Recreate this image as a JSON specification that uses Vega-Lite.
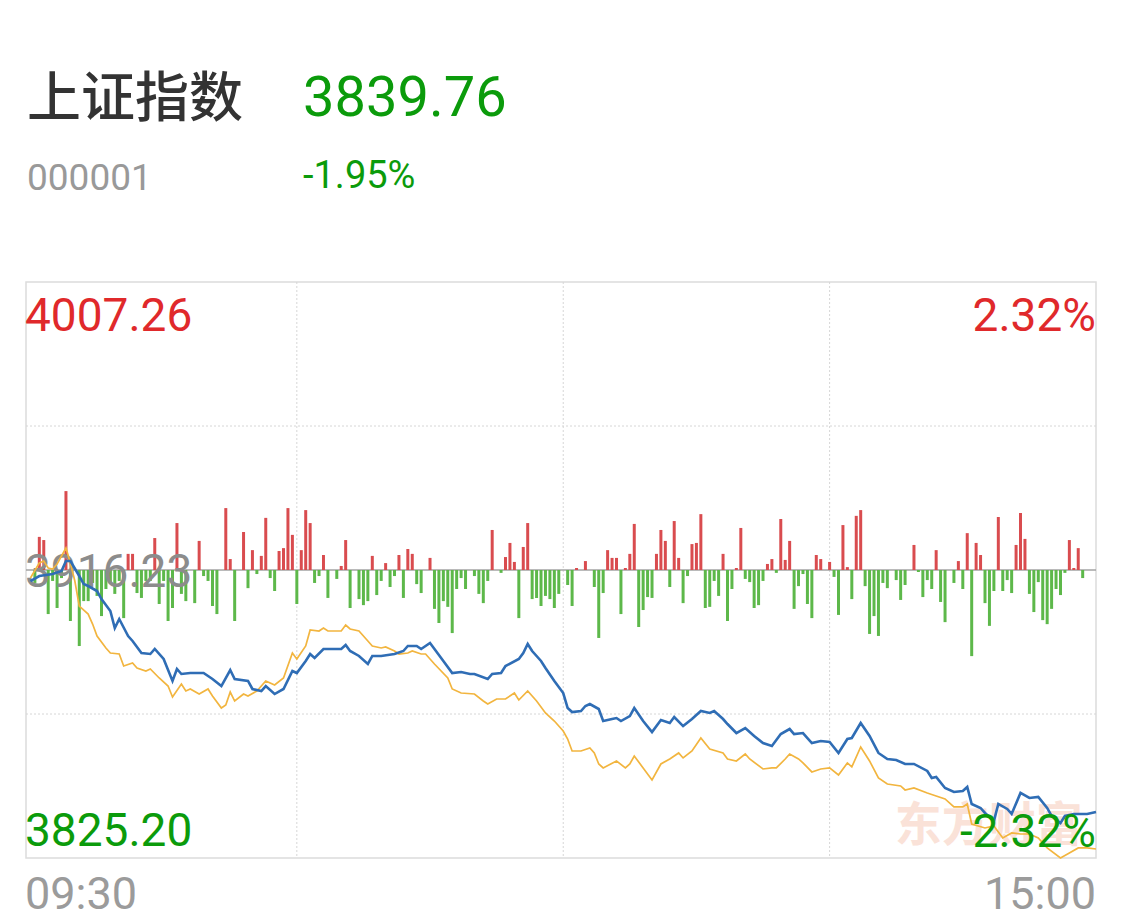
{
  "$schema": "https://vega.github.io/schema/vega-lite/v6.json",
  "background": "white",
  "padding": {"left": 24, "top": 71, "right": 27, "bottom": 6},
  "config": {"view": {"stroke": null}, "font": "Roboto"},
  "datasets": {
    "levels": [
      {"level": "high", "label": "4007.26", "pct": "2.32%", "price": 4007.26},
      {"level": "prev", "label": "3916.23", "pct": "0.00%", "price": 3916.23},
      {"level": "low", "label": "3825.20", "pct": "-2.32%", "price": 3825.20}
    ],
    "shIndex": [
      {"minute": 0, "price": 3912.75}, {"minute": 2, "price": 3914.33}, {"minute": 5, "price": 3914.96}, {"minute": 7, "price": 3915.91},
      {"minute": 8, "price": 3919.08}, {"minute": 9, "price": 3919.08}, {"minute": 11, "price": 3914.33}, {"minute": 12, "price": 3911.80},
      {"minute": 13, "price": 3911.17}, {"minute": 15, "price": 3909.59}, {"minute": 16, "price": 3907.06}, {"minute": 18, "price": 3903.27},
      {"minute": 19, "price": 3897.89}, {"minute": 20, "price": 3900.74}, {"minute": 22, "price": 3895.37}, {"minute": 23, "price": 3893.79},
      {"minute": 25, "price": 3889.99}, {"minute": 27, "price": 3889.68}, {"minute": 28, "price": 3891.26}, {"minute": 30, "price": 3888.10},
      {"minute": 32, "price": 3881.15}, {"minute": 33, "price": 3884.94}, {"minute": 34, "price": 3883.36}, {"minute": 36, "price": 3883.67},
      {"minute": 39, "price": 3883.67}, {"minute": 41, "price": 3881.78}, {"minute": 43, "price": 3879.56}, {"minute": 45, "price": 3884.62},
      {"minute": 46, "price": 3881.78}, {"minute": 49, "price": 3881.15}, {"minute": 50, "price": 3878.62}, {"minute": 52, "price": 3877.98},
      {"minute": 53, "price": 3879.56}, {"minute": 55, "price": 3877.03}, {"minute": 57, "price": 3878.62}, {"minute": 59, "price": 3884.31},
      {"minute": 60, "price": 3883.67}, {"minute": 62, "price": 3887.47}, {"minute": 63, "price": 3889.68}, {"minute": 64, "price": 3888.41},
      {"minute": 66, "price": 3891.26}, {"minute": 68, "price": 3891.26}, {"minute": 70, "price": 3891.26}, {"minute": 71, "price": 3892.52},
      {"minute": 72, "price": 3890.63}, {"minute": 74, "price": 3889.05}, {"minute": 76, "price": 3886.52}, {"minute": 77, "price": 3889.05},
      {"minute": 79, "price": 3889.05}, {"minute": 82, "price": 3889.68}, {"minute": 84, "price": 3890.63}, {"minute": 85, "price": 3892.21},
      {"minute": 87, "price": 3892.21}, {"minute": 88, "price": 3891.26}, {"minute": 90, "price": 3893.16}, {"minute": 91, "price": 3891.26},
      {"minute": 93, "price": 3887.47}, {"minute": 95, "price": 3883.67}, {"minute": 97, "price": 3883.99}, {"minute": 99, "price": 3883.36},
      {"minute": 100, "price": 3883.36}, {"minute": 103, "price": 3881.78}, {"minute": 104, "price": 3883.36}, {"minute": 106, "price": 3883.67},
      {"minute": 107, "price": 3885.89}, {"minute": 110, "price": 3888.10}, {"minute": 111, "price": 3889.99}, {"minute": 112, "price": 3892.84},
      {"minute": 113, "price": 3890.63}, {"minute": 115, "price": 3887.47}, {"minute": 116, "price": 3885.26}, {"minute": 118, "price": 3881.15},
      {"minute": 120, "price": 3877.35}, {"minute": 121, "price": 3872.61}, {"minute": 122, "price": 3871.34}, {"minute": 124, "price": 3871.66},
      {"minute": 125, "price": 3873.24}, {"minute": 126, "price": 3873.87}, {"minute": 128, "price": 3872.29}, {"minute": 129, "price": 3868.50},
      {"minute": 131, "price": 3869.13}, {"minute": 132, "price": 3869.44}, {"minute": 133, "price": 3868.50}, {"minute": 135, "price": 3870.08},
      {"minute": 136, "price": 3872.61}, {"minute": 138, "price": 3868.50}, {"minute": 140, "price": 3865.02}, {"minute": 142, "price": 3868.81},
      {"minute": 144, "price": 3867.87}, {"minute": 145, "price": 3869.76}, {"minute": 147, "price": 3866.91}, {"minute": 149, "price": 3869.13},
      {"minute": 151, "price": 3871.66}, {"minute": 153, "price": 3871.03}, {"minute": 154, "price": 3871.66}, {"minute": 156, "price": 3869.13},
      {"minute": 157, "price": 3867.55}, {"minute": 159, "price": 3864.70}, {"minute": 161, "price": 3866.28}, {"minute": 163, "price": 3863.76},
      {"minute": 165, "price": 3861.54}, {"minute": 167, "price": 3860.59}, {"minute": 169, "price": 3864.39}, {"minute": 171, "price": 3865.97},
      {"minute": 172, "price": 3864.39}, {"minute": 174, "price": 3864.70}, {"minute": 176, "price": 3861.54}, {"minute": 178, "price": 3862.18},
      {"minute": 180, "price": 3861.86}, {"minute": 182, "price": 3858.40}, {"minute": 184, "price": 3862.81}, {"minute": 185, "price": 3863.13},
      {"minute": 187, "price": 3867.87}, {"minute": 189, "price": 3863.76}, {"minute": 191, "price": 3858.40}, {"minute": 193, "price": 3856.50},
      {"minute": 195, "price": 3856.18}, {"minute": 197, "price": 3854.92}, {"minute": 199, "price": 3854.92}, {"minute": 202, "price": 3852.71},
      {"minute": 203, "price": 3850.49}, {"minute": 204, "price": 3850.81}, {"minute": 206, "price": 3847.33}, {"minute": 208, "price": 3846.07},
      {"minute": 210, "price": 3846.38}, {"minute": 211, "price": 3847.65}, {"minute": 212, "price": 3842.28}, {"minute": 214, "price": 3841.01},
      {"minute": 215, "price": 3839.43}, {"minute": 217, "price": 3836.90}, {"minute": 218, "price": 3842.28}, {"minute": 220, "price": 3840.70},
      {"minute": 221, "price": 3839.12}, {"minute": 223, "price": 3845.76}, {"minute": 225, "price": 3844.18}, {"minute": 227, "price": 3844.49},
      {"minute": 229, "price": 3841.01}, {"minute": 230, "price": 3838.49}, {"minute": 232, "price": 3836.27}, {"minute": 233, "price": 3838.49},
      {"minute": 235, "price": 3839.12}, {"minute": 238, "price": 3839.12}, {"minute": 240, "price": 3839.76}
    ],
    "leadLine": [
      {"minute": 0, "price": 3913.70}, {"minute": 2, "price": 3918.44}, {"minute": 3, "price": 3919.08}, {"minute": 4, "price": 3916.87},
      {"minute": 5, "price": 3916.55}, {"minute": 6, "price": 3918.13}, {"minute": 8, "price": 3923.19}, {"minute": 9, "price": 3918.44},
      {"minute": 10, "price": 3912.75}, {"minute": 11, "price": 3904.82}, {"minute": 13, "price": 3902.31}, {"minute": 14, "price": 3899.15},
      {"minute": 15, "price": 3895.37}, {"minute": 17, "price": 3891.58}, {"minute": 18, "price": 3889.99}, {"minute": 20, "price": 3889.68},
      {"minute": 21, "price": 3885.89}, {"minute": 23, "price": 3886.83}, {"minute": 24, "price": 3885.26}, {"minute": 26, "price": 3884.31},
      {"minute": 27, "price": 3884.94}, {"minute": 29, "price": 3882.10}, {"minute": 31, "price": 3879.56}, {"minute": 32, "price": 3876.09},
      {"minute": 34, "price": 3880.20}, {"minute": 35, "price": 3877.98}, {"minute": 36, "price": 3878.62}, {"minute": 38, "price": 3877.03},
      {"minute": 40, "price": 3878.62}, {"minute": 41, "price": 3876.41}, {"minute": 43, "price": 3872.61}, {"minute": 44, "price": 3873.56},
      {"minute": 45, "price": 3877.66}, {"minute": 46, "price": 3874.82}, {"minute": 48, "price": 3877.03}, {"minute": 49, "price": 3876.41},
      {"minute": 51, "price": 3877.98}, {"minute": 53, "price": 3881.15}, {"minute": 55, "price": 3879.88}, {"minute": 57, "price": 3882.10},
      {"minute": 59, "price": 3889.99}, {"minute": 60, "price": 3888.10}, {"minute": 62, "price": 3892.21}, {"minute": 63, "price": 3897.26},
      {"minute": 65, "price": 3896.95}, {"minute": 66, "price": 3897.89}, {"minute": 67, "price": 3896.95}, {"minute": 70, "price": 3896.95},
      {"minute": 71, "price": 3898.84}, {"minute": 72, "price": 3897.58}, {"minute": 74, "price": 3896.95}, {"minute": 76, "price": 3893.79},
      {"minute": 77, "price": 3892.21}, {"minute": 79, "price": 3891.58}, {"minute": 80, "price": 3891.89}, {"minute": 82, "price": 3890.63},
      {"minute": 83, "price": 3889.68}, {"minute": 85, "price": 3889.99}, {"minute": 86, "price": 3890.63}, {"minute": 88, "price": 3889.68},
      {"minute": 89, "price": 3889.68}, {"minute": 91, "price": 3886.52}, {"minute": 94, "price": 3882.10}, {"minute": 95, "price": 3878.62},
      {"minute": 97, "price": 3877.35}, {"minute": 100, "price": 3877.03}, {"minute": 102, "price": 3874.82}, {"minute": 103, "price": 3873.87},
      {"minute": 105, "price": 3875.45}, {"minute": 107, "price": 3875.45}, {"minute": 109, "price": 3877.35}, {"minute": 110, "price": 3875.14},
      {"minute": 112, "price": 3877.98}, {"minute": 114, "price": 3874.82}, {"minute": 116, "price": 3871.03}, {"minute": 118, "price": 3868.50},
      {"minute": 120, "price": 3865.34}, {"minute": 121, "price": 3862.81}, {"minute": 122, "price": 3859.02}, {"minute": 124, "price": 3859.02},
      {"minute": 126, "price": 3859.97}, {"minute": 127, "price": 3858.40}, {"minute": 128, "price": 3854.92}, {"minute": 129, "price": 3853.66},
      {"minute": 132, "price": 3855.87}, {"minute": 134, "price": 3853.66}, {"minute": 135, "price": 3854.92}, {"minute": 136, "price": 3857.45},
      {"minute": 138, "price": 3853.66}, {"minute": 140, "price": 3849.87}, {"minute": 142, "price": 3854.92}, {"minute": 144, "price": 3856.50},
      {"minute": 146, "price": 3858.40}, {"minute": 147, "price": 3856.82}, {"minute": 149, "price": 3859.02}, {"minute": 151, "price": 3863.13},
      {"minute": 153, "price": 3859.66}, {"minute": 156, "price": 3858.40}, {"minute": 157, "price": 3856.50}, {"minute": 159, "price": 3855.87},
      {"minute": 161, "price": 3858.08}, {"minute": 162, "price": 3856.50}, {"minute": 165, "price": 3853.34}, {"minute": 167, "price": 3853.66},
      {"minute": 168, "price": 3853.66}, {"minute": 170, "price": 3856.50}, {"minute": 171, "price": 3858.08}, {"minute": 173, "price": 3856.50},
      {"minute": 174, "price": 3855.24}, {"minute": 176, "price": 3852.40}, {"minute": 178, "price": 3853.34}, {"minute": 180, "price": 3853.66},
      {"minute": 182, "price": 3851.44}, {"minute": 184, "price": 3855.24}, {"minute": 185, "price": 3853.98}, {"minute": 187, "price": 3860.30},
      {"minute": 189, "price": 3855.87}, {"minute": 191, "price": 3850.49}, {"minute": 193, "price": 3848.60}, {"minute": 196, "price": 3847.96},
      {"minute": 197, "price": 3846.70}, {"minute": 199, "price": 3847.33}, {"minute": 202, "price": 3845.75}, {"minute": 204, "price": 3844.80},
      {"minute": 206, "price": 3843.86}, {"minute": 208, "price": 3841.33}, {"minute": 210, "price": 3841.33}, {"minute": 211, "price": 3842.28},
      {"minute": 212, "price": 3835.96}, {"minute": 215, "price": 3834.69}, {"minute": 217, "price": 3835.32}, {"minute": 219, "price": 3831.53},
      {"minute": 221, "price": 3833.11}, {"minute": 223, "price": 3832.79}, {"minute": 225, "price": 3832.79}, {"minute": 227, "price": 3831.53},
      {"minute": 229, "price": 3828.37}, {"minute": 232, "price": 3825.20}, {"minute": 234, "price": 3826.78}, {"minute": 236, "price": 3828.37},
      {"minute": 238, "price": 3828.37}, {"minute": 240, "price": 3828.05}
    ],
    "strength": [
      {"minute": 1, "value": -4.5}, {"minute": 2, "value": 11.5}, {"minute": 3, "value": 10.4}, {"minute": 4, "value": -15.3},
      {"minute": 5, "value": -3.8}, {"minute": 6, "value": -13.2}, {"minute": 7, "value": -2.8}, {"minute": 8, "value": 27.4},
      {"minute": 9, "value": -17.7}, {"minute": 11, "value": -26.4}, {"minute": 12, "value": -10.8}, {"minute": 13, "value": -10.8},
      {"minute": 14, "value": -4.5}, {"minute": 15, "value": -9.0}, {"minute": 16, "value": -16.0}, {"minute": 17, "value": -6.6},
      {"minute": 18, "value": -4.9}, {"minute": 19, "value": -8.3}, {"minute": 20, "value": -3.8}, {"minute": 21, "value": -16.7},
      {"minute": 22, "value": 5.6}, {"minute": 23, "value": 5.6}, {"minute": 24, "value": -8.0}, {"minute": 25, "value": -9.7},
      {"minute": 26, "value": -3.8}, {"minute": 27, "value": -3.8}, {"minute": 28, "value": 11.1}, {"minute": 29, "value": -11.8},
      {"minute": 30, "value": -3.8}, {"minute": 31, "value": -17.7}, {"minute": 32, "value": -13.2}, {"minute": 33, "value": 16.3},
      {"minute": 34, "value": -8.3}, {"minute": 35, "value": -10.8}, {"minute": 37, "value": -11.5}, {"minute": 38, "value": 10.1},
      {"minute": 39, "value": -2.1}, {"minute": 40, "value": -3.8}, {"minute": 41, "value": -12.5}, {"minute": 42, "value": -15.3},
      {"minute": 44, "value": 21.5}, {"minute": 45, "value": 3.8}, {"minute": 46, "value": -17.7}, {"minute": 48, "value": 13.2},
      {"minute": 49, "value": -6.3}, {"minute": 50, "value": 6.9}, {"minute": 51, "value": -1.4}, {"minute": 52, "value": 4.9},
      {"minute": 53, "value": 18.1}, {"minute": 54, "value": -2.8}, {"minute": 55, "value": -7.3}, {"minute": 56, "value": 6.6},
      {"minute": 57, "value": 7.6}, {"minute": 58, "value": 21.5}, {"minute": 59, "value": 12.2}, {"minute": 60, "value": -11.8},
      {"minute": 61, "value": 6.9}, {"minute": 62, "value": 20.8}, {"minute": 63, "value": 16.3}, {"minute": 64, "value": -4.5},
      {"minute": 65, "value": -2.1}, {"minute": 66, "value": 5.2}, {"minute": 67, "value": -9.7}, {"minute": 69, "value": -3.1},
      {"minute": 70, "value": 1.4}, {"minute": 71, "value": 10.4}, {"minute": 72, "value": -13.2}, {"minute": 74, "value": -10.1},
      {"minute": 75, "value": -12.2}, {"minute": 76, "value": -10.8}, {"minute": 77, "value": 4.9}, {"minute": 78, "value": -8.7},
      {"minute": 79, "value": -3.8}, {"minute": 80, "value": 2.4}, {"minute": 81, "value": -5.9}, {"minute": 82, "value": -2.1},
      {"minute": 83, "value": 5.2}, {"minute": 84, "value": -9.7}, {"minute": 85, "value": 7.3}, {"minute": 86, "value": 5.6},
      {"minute": 87, "value": -4.9}, {"minute": 88, "value": -8.0}, {"minute": 90, "value": 4.2}, {"minute": 91, "value": -13.5},
      {"minute": 92, "value": -18.4}, {"minute": 93, "value": -10.8}, {"minute": 94, "value": -12.8}, {"minute": 95, "value": -21.9},
      {"minute": 96, "value": -6.6}, {"minute": 97, "value": -2.8}, {"minute": 98, "value": -6.6}, {"minute": 100, "value": -2.1},
      {"minute": 101, "value": -8.3}, {"minute": 102, "value": -11.5}, {"minute": 103, "value": -3.8}, {"minute": 104, "value": 13.9},
      {"minute": 106, "value": -1.0}, {"minute": 107, "value": 4.5}, {"minute": 108, "value": 9.4}, {"minute": 109, "value": 2.8},
      {"minute": 110, "value": -16.7}, {"minute": 111, "value": 8.0}, {"minute": 112, "value": 16.3}, {"minute": 113, "value": -10.1},
      {"minute": 114, "value": -9.7}, {"minute": 115, "value": -12.5}, {"minute": 116, "value": -9.0}, {"minute": 117, "value": -10.1},
      {"minute": 118, "value": -13.2}, {"minute": 119, "value": -8.3}, {"minute": 121, "value": -5.2}, {"minute": 122, "value": -12.5},
      {"minute": 123, "value": 0.7}, {"minute": 125, "value": 3.1}, {"minute": 127, "value": -5.9}, {"minute": 128, "value": -23.6},
      {"minute": 129, "value": -8.0}, {"minute": 130, "value": 6.9}, {"minute": 131, "value": 4.2}, {"minute": 132, "value": 4.2},
      {"minute": 133, "value": -15.3}, {"minute": 134, "value": 0.7}, {"minute": 135, "value": 5.6}, {"minute": 136, "value": 16.0},
      {"minute": 137, "value": -19.8}, {"minute": 138, "value": -13.9}, {"minute": 139, "value": -9.4}, {"minute": 140, "value": -9.7},
      {"minute": 141, "value": 5.6}, {"minute": 142, "value": 13.9}, {"minute": 143, "value": 10.1}, {"minute": 144, "value": -5.9},
      {"minute": 145, "value": 17.0}, {"minute": 146, "value": 4.2}, {"minute": 147, "value": -11.5}, {"minute": 148, "value": -2.1},
      {"minute": 149, "value": 9.0}, {"minute": 150, "value": 9.4}, {"minute": 151, "value": 19.4}, {"minute": 152, "value": -13.2},
      {"minute": 153, "value": -12.8}, {"minute": 154, "value": -3.8}, {"minute": 155, "value": -9.0}, {"minute": 156, "value": 5.6},
      {"minute": 157, "value": -17.7}, {"minute": 158, "value": -6.6}, {"minute": 159, "value": 0.7}, {"minute": 160, "value": 14.6},
      {"minute": 161, "value": -3.1}, {"minute": 162, "value": -4.2}, {"minute": 163, "value": -13.2}, {"minute": 164, "value": -12.2},
      {"minute": 165, "value": -3.8}, {"minute": 166, "value": 2.1}, {"minute": 167, "value": 3.8}, {"minute": 168, "value": -1.0},
      {"minute": 169, "value": 17.7}, {"minute": 170, "value": 3.5}, {"minute": 171, "value": 10.1}, {"minute": 172, "value": -13.5},
      {"minute": 173, "value": -5.6}, {"minute": 174, "value": -1.4}, {"minute": 175, "value": -11.8}, {"minute": 176, "value": -16.7},
      {"minute": 177, "value": 5.2}, {"minute": 178, "value": 3.8}, {"minute": 180, "value": 2.8}, {"minute": 181, "value": -2.4},
      {"minute": 182, "value": -15.6}, {"minute": 183, "value": 15.6}, {"minute": 184, "value": 1.0}, {"minute": 185, "value": -10.1},
      {"minute": 186, "value": 18.8}, {"minute": 187, "value": 20.8}, {"minute": 188, "value": -5.6}, {"minute": 189, "value": -22.2},
      {"minute": 190, "value": -16.0}, {"minute": 191, "value": -22.9}, {"minute": 192, "value": -4.5}, {"minute": 193, "value": -6.3},
      {"minute": 195, "value": -3.5}, {"minute": 196, "value": -10.4}, {"minute": 197, "value": -5.2}, {"minute": 199, "value": 8.7},
      {"minute": 200, "value": -0.7}, {"minute": 201, "value": -9.4}, {"minute": 202, "value": -3.5}, {"minute": 203, "value": -6.6},
      {"minute": 204, "value": 6.9}, {"minute": 205, "value": -11.1}, {"minute": 206, "value": -18.1}, {"minute": 208, "value": -4.5},
      {"minute": 209, "value": 3.1}, {"minute": 210, "value": -6.6}, {"minute": 211, "value": 12.8}, {"minute": 212, "value": -29.9},
      {"minute": 213, "value": 9.4}, {"minute": 214, "value": 5.2}, {"minute": 215, "value": -11.5}, {"minute": 216, "value": -19.4},
      {"minute": 217, "value": -7.3}, {"minute": 218, "value": 18.4}, {"minute": 219, "value": -7.3}, {"minute": 220, "value": -3.5},
      {"minute": 221, "value": -8.0}, {"minute": 222, "value": 8.7}, {"minute": 223, "value": 19.8}, {"minute": 224, "value": 10.8},
      {"minute": 225, "value": -8.3}, {"minute": 226, "value": -14.6}, {"minute": 227, "value": -4.2}, {"minute": 228, "value": -17.4},
      {"minute": 229, "value": -18.8}, {"minute": 230, "value": -13.5}, {"minute": 231, "value": -6.6}, {"minute": 232, "value": -8.7},
      {"minute": 233, "value": -1.0}, {"minute": 234, "value": 10.4}, {"minute": 235, "value": 0.7}, {"minute": 236, "value": 7.6},
      {"minute": 237, "value": -2.8}
    ]
  },
  "vconcat": [
    {
      "hconcat": [
        {
          "width": 276,
          "height": 1,
          "data": {"values": []},
          "mark": "text",
          "title": {
            "text": "上证指数",
            "subtitle": "000001",
            "anchor": "start",
            "frame": "group",
            "offset": 0,
            "dx": 1,
            "font": "Noto Sans CJK SC",
            "fontSize": 54,
            "fontWeight": 500,
            "color": "#333333",
            "subtitleFont": "Roboto",
            "subtitleFontSize": 37,
            "subtitleFontWeight": "normal",
            "subtitleColor": "#999999",
            "subtitlePadding": 33
          }
        },
        {
          "width": 220,
          "height": 1,
          "data": {"values": []},
          "mark": "text",
          "title": {
            "text": "3839.76",
            "subtitle": "-1.95%",
            "anchor": "start",
            "frame": "group",
            "offset": 0,
            "font": "Roboto",
            "fontSize": 56,
            "fontWeight": "normal",
            "color": "#0b9b0b",
            "subtitleFont": "Roboto",
            "subtitleFontSize": 38,
            "subtitleFontWeight": "normal",
            "subtitleColor": "#0b9b0b",
            "subtitlePadding": 30,
            "dx": 1
          }
        }
      ],
      "spacing": 0
    },
    {
      "width": 1070,
      "height": 576,
      "view": {"stroke": "#dcdcdc", "strokeWidth": 1.5},
      "resolve": {"scale": {"y": "independent"}},
      "layer": [
        {
          "data": {"values": [{"brand": "东方财富"}]},
          "mark": {"type": "text", "font": "Noto Sans CJK SC", "fontSize": 47, "fontWeight": "bold", "color": "#fae2d8", "align": "right", "baseline": "middle"},
          "encoding": {
            "text": {"field": "brand"},
            "x": {"datum": 237, "type": "quantitative", "scale": {"domain": [-1, 240], "padding": 0}, "axis": null},
            "y": {"datum": 3835, "type": "quantitative", "scale": {"domain": [3825.2, 4007.26], "nice": false, "zero": false}, "axis": null}
          }
        },
        {
          "data": {"values": [{"price": 3961.745}, {"price": 3870.715}]},
          "mark": {"type": "rule", "color": "#d6d6d6", "strokeWidth": 1, "strokeDash": [2, 2]},
          "encoding": {
            "y": {"field": "price", "type": "quantitative", "scale": {"domain": [3825.2, 4007.26], "nice": false, "zero": false}, "axis": null}
          }
        },
        {
          "data": {"values": [{"minute": 60}, {"minute": 120}, {"minute": 180}]},
          "mark": {"type": "rule", "color": "#d6d6d6", "strokeWidth": 1, "strokeDash": [2, 2]},
          "encoding": {
            "x": {"field": "minute", "type": "quantitative", "scale": {"domain": [-1, 240], "padding": 0}, "axis": null}
          }
        },
        {
          "data": {"name": "levels"},
          "transform": [{"filter": "datum.level == 'prev'"}],
          "mark": {"type": "rule", "color": "#a3a3a3", "strokeWidth": 1.5},
          "encoding": {
            "y": {"field": "price", "type": "quantitative", "scale": {"domain": [3825.2, 4007.26], "nice": false, "zero": false}, "axis": null}
          }
        },
        {
          "data": {"name": "strength"},
          "mark": {"type": "bar", "width": 3},
          "encoding": {
            "x": {"field": "minute", "type": "quantitative", "scale": {"domain": [-1, 240], "padding": 0}, "axis": null},
            "y": {"field": "value", "type": "quantitative", "scale": {"domain": [-100, 100], "nice": false}, "axis": null},
            "y2": {"datum": 0},
            "color": {"condition": {"test": "datum.value > 0", "value": "#d94c4f"}, "value": "#5db84a"}
          }
        },
        {
          "data": {"name": "levels"},
          "transform": [{"filter": "datum.level == 'prev'"}],
          "mark": {"type": "text", "font": "Roboto", "fontSize": 46, "color": "#8c8c8c", "align": "left", "baseline": "alphabetic", "dy": 17, "dx": -1},
          "encoding": {
            "text": {"field": "label"},
            "x": {"datum": -1, "type": "quantitative", "scale": {"domain": [-1, 240], "padding": 0}, "axis": null},
            "y": {"field": "price", "type": "quantitative", "scale": {"domain": [3825.2, 4007.26], "nice": false, "zero": false}, "axis": null}
          }
        },
        {
          "data": {"name": "leadLine"},
          "mark": {"type": "line", "color": "#f2b53f", "strokeWidth": 1.7, "interpolate": "linear"},
          "encoding": {
            "x": {"field": "minute", "type": "quantitative", "scale": {"domain": [-1, 240], "padding": 0}, "axis": null},
            "y": {"field": "price", "type": "quantitative", "scale": {"domain": [3825.2, 4007.26], "nice": false, "zero": false}, "axis": null}
          }
        },
        {
          "data": {"name": "shIndex"},
          "mark": {"type": "line", "color": "#2f6db5", "strokeWidth": 2.6, "interpolate": "linear"},
          "encoding": {
            "x": {"field": "minute", "type": "quantitative", "scale": {"domain": [-1, 240], "padding": 0}, "axis": null},
            "y": {"field": "price", "type": "quantitative", "scale": {"domain": [3825.2, 4007.26], "nice": false, "zero": false}, "axis": null}
          }
        },
        {
          "data": {"name": "levels"},
          "transform": [{"filter": "datum.level == 'high'"}],
          "mark": {"type": "text", "font": "Roboto", "fontSize": 46, "color": "#e0292b", "align": "left", "baseline": "alphabetic", "dy": 49, "dx": -1},
          "encoding": {
            "text": {"field": "label"},
            "x": {"datum": -1, "type": "quantitative", "scale": {"domain": [-1, 240], "padding": 0}, "axis": null},
            "y": {"field": "price", "type": "quantitative", "scale": {"domain": [3825.2, 4007.26], "nice": false, "zero": false}, "axis": null}
          }
        },
        {
          "data": {"name": "levels"},
          "transform": [{"filter": "datum.level == 'high'"}],
          "mark": {"type": "text", "font": "Roboto", "fontSize": 46, "color": "#e0292b", "align": "right", "baseline": "alphabetic", "dy": 49},
          "encoding": {
            "text": {"field": "pct"},
            "x": {"datum": 240, "type": "quantitative", "scale": {"domain": [-1, 240], "padding": 0}, "axis": null},
            "y": {"field": "price", "type": "quantitative", "scale": {"domain": [3825.2, 4007.26], "nice": false, "zero": false}, "axis": null}
          }
        },
        {
          "data": {"name": "levels"},
          "transform": [{"filter": "datum.level == 'low'"}],
          "mark": {"type": "text", "font": "Roboto", "fontSize": 46, "color": "#0b9b0b", "align": "left", "baseline": "alphabetic", "dy": -12, "dx": -1},
          "encoding": {
            "text": {"field": "label"},
            "x": {"datum": -1, "type": "quantitative", "scale": {"domain": [-1, 240], "padding": 0}, "axis": null},
            "y": {"field": "price", "type": "quantitative", "scale": {"domain": [3825.2, 4007.26], "nice": false, "zero": false}, "axis": null}
          }
        },
        {
          "data": {"name": "levels"},
          "transform": [{"filter": "datum.level == 'low'"}],
          "mark": {"type": "text", "font": "Roboto", "fontSize": 46, "color": "#0b9b0b", "align": "right", "baseline": "alphabetic", "dy": -11},
          "encoding": {
            "text": {"field": "pct"},
            "x": {"datum": 240, "type": "quantitative", "scale": {"domain": [-1, 240], "padding": 0}, "axis": null},
            "y": {"field": "price", "type": "quantitative", "scale": {"domain": [3825.2, 4007.26], "nice": false, "zero": false}, "axis": null}
          }
        },
        {
          "data": {"values": [{"time": "09:30"}]},
          "mark": {"type": "text", "font": "Roboto", "fontSize": 45, "color": "#9b9b9b", "align": "left", "baseline": "alphabetic", "dy": 51, "dx": -1},
          "encoding": {
            "text": {"field": "time"},
            "x": {"datum": -1, "type": "quantitative", "scale": {"domain": [-1, 240], "padding": 0}, "axis": null},
            "y": {"datum": 3825.2, "type": "quantitative", "scale": {"domain": [3825.2, 4007.26], "nice": false, "zero": false}, "axis": null}
          }
        },
        {
          "data": {"values": [{"time": "15:00"}]},
          "mark": {"type": "text", "font": "Roboto", "fontSize": 45, "color": "#9b9b9b", "align": "right", "baseline": "alphabetic", "dy": 51},
          "encoding": {
            "text": {"field": "time"},
            "x": {"datum": 240, "type": "quantitative", "scale": {"domain": [-1, 240], "padding": 0}, "axis": null},
            "y": {"datum": 3825.2, "type": "quantitative", "scale": {"domain": [3825.2, 4007.26], "nice": false, "zero": false}, "axis": null}
          }
        }
      ]
    }
  ],
  "spacing": 82
}
